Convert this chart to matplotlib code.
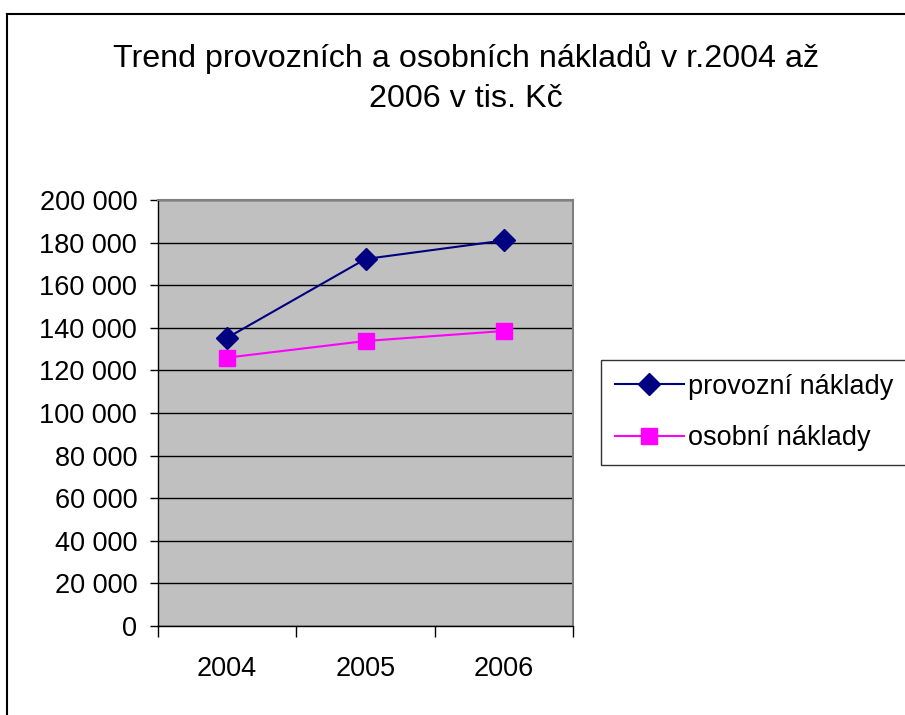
"""Trend provozních a osobních nákladů - line chart"""
import matplotlib.pyplot as plt
from matplotlib.ticker import FuncFormatter, FixedLocator
from matplotlib.lines import Line2D
import numpy as np

plt.rcParams['font.family'] = ['Liberation Sans', 'DejaVu Sans']
plt.rc('font', size=19.5)

years = ["2004", "2005", "2006"]
provozni = [135300, 172300, 181000]
osobni = [126000, 133800, 138500]
yticks = np.arange(0, 200001, 20000)

W, H = 905, 715
fig = plt.figure(figsize=(W / 100, H / 100), dpi=100)

# outer chart frame (left and top edges visible)
fig.add_artist(Line2D([7 / W, 7 / W], [0, 1 - 14 / H], color="k", lw=1.5))
fig.add_artist(Line2D([7 / W, 1], [1 - 14 / H, 1 - 14 / H], color="k", lw=1.5))

ax = fig.add_axes([158 / W, (H - 626) / H, (573 - 158) / W, 426 / H])
ax.set_facecolor("#C0C0C0")

x = np.arange(len(years))
ax.plot(x, provozni, color="#000080", lw=1.5, marker="D", ms=11,
        label="provozní náklady")
ax.plot(x, osobni, color="#FF00FF", lw=1.5, marker="s", ms=11,
        label="osobní náklady")

ax.set_xlim(-0.5, len(years) - 0.5)
ax.set_ylim(0, 200000)
ax.set_yticks(yticks)
ax.yaxis.set_major_formatter(FuncFormatter(lambda v, p: "{:,.0f}".format(v).replace(",", " ")))
ax.grid(axis="y", color="k", lw=1)
ax.set_axisbelow(True)

ax.set_xticks(x)
ax.set_xticklabels(years)
ax.xaxis.set_minor_locator(FixedLocator(np.arange(-0.5, len(years), 1.0)))
ax.tick_params(axis="x", which="major", length=0, pad=21.5)
ax.tick_params(axis="x", which="minor", length=8, width=1)
ax.tick_params(axis="y", length=6, width=1, pad=9)

for s in ["top", "right"]:
    ax.spines[s].set_color("#808080")
    ax.spines[s].set_linewidth(1.5)
for s in ["left", "bottom"]:
    ax.spines[s].set_color("k")
    ax.spines[s].set_linewidth(1)

fig.text(466 / W, 1 - 77.5 / H, "Trend provozních a osobních nákladů v r.2004 až\n2006 v tis. Kč",
         ha="center", va="center", fontsize=23.2, linespacing=1.47)

leg = ax.legend(loc="center left", bbox_to_anchor=(601 / W, 1 - 412.5 / H),
                bbox_transform=fig.transFigure, frameon=True, fancybox=False,
                edgecolor="k", borderpad=0.5, handlelength=2.55,
                handletextpad=0.15, labelspacing=0.95, borderaxespad=0)
leg.get_frame().set_linewidth(1)

fig.savefig("out.png", dpi=100)
